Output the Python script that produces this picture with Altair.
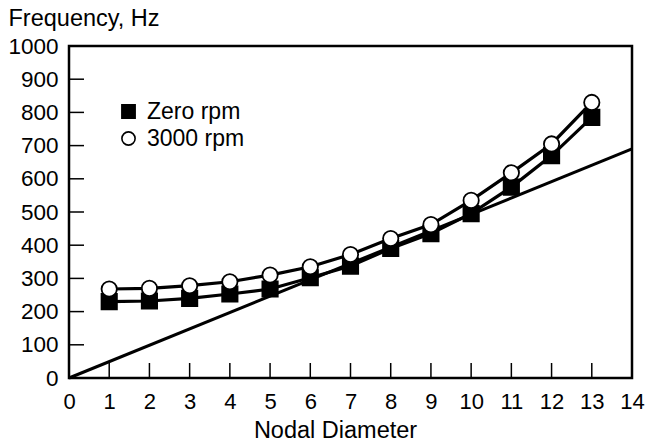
import altair as alt
import pandas as pd

nodal = list(range(1, 14))
zero_rpm = [230, 232, 240, 253, 268, 302, 337, 390, 435, 495, 575, 670, 785]
rpm3000 = [268, 270, 278, 290, 310, 335, 372, 420, 462, 535, 618, 705, 830]
series_names = ["Zero rpm", "3000 rpm"]
line_x = [0, 14]
line_y = [0, 690]
x_ticks = list(range(0, 15))
y_ticks = list(range(0, 1001, 100))

FONT = "Liberation Sans"
W, H = 563, 332

df = pd.DataFrame(
    {"nd": nodal * 2,
     "freq": zero_rpm + rpm3000,
     "series": [series_names[0]] * len(nodal) + [series_names[1]] * len(nodal)}
)
dline = pd.DataFrame({"nd": line_x, "freq": line_y})
dxt = pd.DataFrame({"t": x_ticks[1:-1]})
dyt = pd.DataFrame({"t": y_ticks[1:-1]})

xs = alt.Scale(domain=[0, 14], nice=False)
ys = alt.Scale(domain=[0, 1000], nice=False)

xax = alt.Axis(values=x_ticks, ticks=False, grid=False, domain=False, labelOverlap=False,
               labelFontSize=22, labelFont=FONT, labelColor="black", labelPadding=13,
               labelFlush=False, format="d",
               title="Nodal Diameter", titleFontSize=23.5, titleFont=FONT,
               titleFontWeight="normal", titleColor="black",
               titleX=266, titleY=59, titleAlign="center", titleBaseline="alphabetic")
yax = alt.Axis(values=y_ticks, ticks=False, grid=False, domain=False, labelOverlap=False,
               labelFontSize=22.5, labelFont=FONT, labelColor="black", labelPadding=11,
               labelFlush=False, format="d",
               title="Frequency, Hz", titleFontSize=23.5, titleFont=FONT,
               titleFontWeight="normal", titleColor="black", titleAngle=0,
               titleAlign="left", titleBaseline="alphabetic", titleX=-61, titleY=-21)

legend = alt.Legend(title=None, orient="none", legendX=48, legendY=54,
                    labelFontSize=23, labelFont=FONT, labelColor="black",
                    symbolSize=175, symbolStrokeColor="black",
                    symbolStrokeWidth=1.6, rowPadding=3, labelOffset=7)

def X(field):
    return alt.X(field, type="quantitative", scale=xs, axis=xax, title="Nodal Diameter")

def Y(field):
    return alt.Y(field, type="quantitative", scale=ys, axis=yax, title="Frequency, Hz")

base_line = alt.Chart(dline).mark_line(color="black", strokeWidth=3).encode(
    x=X("nd"), y=Y("freq"),
)

series_lines = alt.Chart(df).mark_line(color="black", strokeWidth=3.2).encode(
    x=X("nd"), y=Y("freq"),
    detail="series:N",
)

pts = alt.Chart(df).mark_point(filled=False, strokeWidth=1.8, opacity=1,
                               size=235).encode(
    x=X("nd"), y=Y("freq"),
    shape=alt.Shape("series:N", scale=alt.Scale(domain=series_names, range=["square", "circle"]),
                    legend=legend),
    fill=alt.Fill("series:N", scale=alt.Scale(domain=series_names, range=["black", "white"]),
                  legend=legend),
    stroke=alt.Stroke("series:N", scale=alt.Scale(domain=series_names, range=["black", "black"]),
                      legend=legend),
)

xtick_rules = alt.Chart(dxt).mark_rule(color="black", strokeWidth=1.5).encode(
    x=X("t"), y=alt.value(H), y2=alt.value(H - 15)
)
ytick_rules = alt.Chart(dyt).mark_rule(color="black", strokeWidth=1.5).encode(
    y=Y("t"), x=alt.value(0), x2=alt.value(15)
)

chart = alt.layer(base_line, xtick_rules, ytick_rules, series_lines, pts).properties(
    width=W, height=H,
    padding={"left": 69, "top": 46, "right": 13, "bottom": 65},
    autosize=alt.AutoSizeParams(type="none"),
    background="white",
).configure_view(stroke="black", strokeWidth=2.5)

chart.save("out.html", embed_options={"renderer": "svg", "actions": False})
